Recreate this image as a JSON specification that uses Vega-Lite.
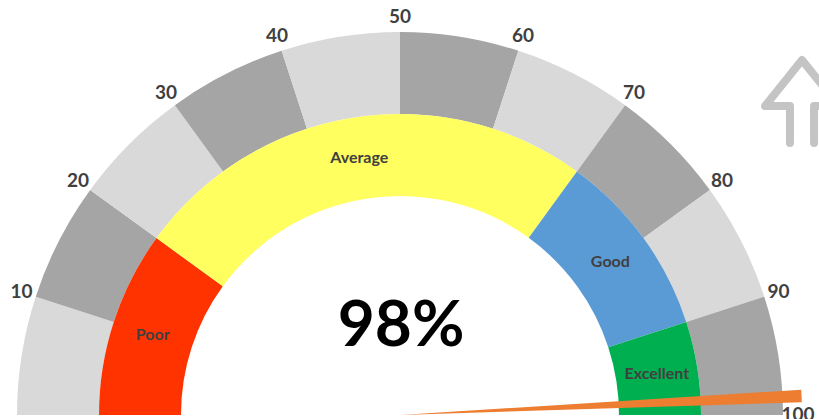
{
  "$schema": "https://vega.github.io/schema/vega-lite/v6.json",
  "width": 819,
  "height": 419,
  "padding": 0,
  "autosize": {"type": "none"},
  "background": "white",
  "config": {"view": {"stroke": null}},
  "encoding": {
    "x": {"datum": 0, "type": "quantitative", "scale": {"domain": [-100, 104.75], "nice": false, "zero": false}, "axis": null},
    "y": {"datum": 0, "type": "quantitative", "scale": {"domain": [-1, 103.75], "nice": false, "zero": false}, "axis": null}
  },
  "layer": [
    {
      "data": {"values": [
        {"start": 0, "end": 10, "band": "light"},
        {"start": 10, "end": 20, "band": "dark"},
        {"start": 20, "end": 30, "band": "light"},
        {"start": 30, "end": 40, "band": "dark"},
        {"start": 40, "end": 50, "band": "light"},
        {"start": 50, "end": 60, "band": "dark"},
        {"start": 60, "end": 70, "band": "light"},
        {"start": 70, "end": 80, "band": "dark"},
        {"start": 80, "end": 90, "band": "light"},
        {"start": 90, "end": 100, "band": "dark"}
      ]},
      "mark": {"type": "arc", "stroke": null},
      "encoding": {
        "theta": {"field": "start", "type": "quantitative", "stack": null, "scale": {"domain": [0, 100], "range": [-1.5708, 1.5708]}},
        "theta2": {"field": "end"},
        "radius": {"datum": 95.75, "type": "quantitative", "scale": {"type": "linear", "domain": [0, 100], "range": [0, 400], "zero": true}},
        "radius2": {"datum": 75.25},
        "color": {"field": "band", "type": "nominal", "legend": null, "scale": {"domain": ["light", "dark", "Poor", "Average", "Good", "Excellent"], "range": ["#d9d9d9", "#a5a5a5", "#ff3300", "#ffff5f", "#5b9bd5", "#00b050"]}}
      }
    },
    {
      "data": {"values": [
        {"start": 0, "end": 20, "band": "Poor"},
        {"start": 20, "end": 70, "band": "Average"},
        {"start": 70, "end": 90, "band": "Good"},
        {"start": 90, "end": 100, "band": "Excellent"}
      ]},
      "mark": {"type": "arc", "stroke": null},
      "encoding": {
        "theta": {"field": "start", "type": "quantitative", "stack": null},
        "theta2": {"field": "end"},
        "radius": {"datum": 75.25, "type": "quantitative"},
        "radius2": {"datum": 54.75},
        "color": {"field": "band", "type": "nominal", "legend": null}
      }
    },
    {
      "data": {"values": [
        {"mid": 10, "band": "Poor"},
        {"mid": 45, "band": "Average"},
        {"mid": 80, "band": "Good"},
        {"mid": 95, "band": "Excellent"}
      ]},
      "mark": {"type": "text", "font": "Lato", "fontWeight": "bold", "fontSize": 16, "fill": "#404040", "align": "center", "baseline": "middle"},
      "encoding": {
        "theta": {"field": "mid", "type": "quantitative", "stack": null},
        "radius": {"datum": 65, "type": "quantitative"},
        "text": {"field": "band"}
      }
    },
    {
      "data": {"values": [
        {"tick": 10}, {"tick": 20}, {"tick": 30}, {"tick": 40}, {"tick": 50},
        {"tick": 60}, {"tick": 70}, {"tick": 80}, {"tick": 90}, {"tick": 100}
      ]},
      "mark": {"type": "text", "font": "Lato", "fontWeight": "bold", "fontSize": 19, "fill": "#404040", "align": "center", "baseline": "middle"},
      "encoding": {
        "theta": {"field": "tick", "type": "quantitative", "stack": null},
        "radius": {"datum": 99.5, "type": "quantitative"},
        "text": {"field": "tick", "type": "quantitative"}
      }
    },
    {
      "data": {"values": [{"value": 98, "display": "98%"}]},
      "layer": [
        {
          "mark": {"type": "arc", "fill": "#ed7d31", "stroke": null},
          "encoding": {
            "theta": {"field": "value", "type": "quantitative", "stack": null},
            "theta2": {"datum": 99},
            "radius": {"datum": 100.5, "type": "quantitative"},
            "radius2": {"datum": 0}
          }
        },
        {
          "mark": {"type": "text", "font": "Lato", "fontWeight": "bold", "fontSize": 64, "fill": "#000000", "align": "center", "baseline": "middle"},
          "encoding": {
            "x": {"datum": 0.25, "type": "quantitative"},
            "y": {"datum": 22, "type": "quantitative"},
            "text": {"field": "display"}
          }
        }
      ]
    },
    {
      "data": {"values": [{"icon": "up"}]},
      "mark": {"type": "point", "shape": "M-0.29,1L-0.29,0.11L-0.89,0.11L0,-1L0.89,0.11L0.29,0.11L0.29,1", "filled": false, "fill": null, "stroke": "#c4c4c4", "strokeWidth": 8, "strokeCap": "round", "strokeJoin": "round", "opacity": 1, "size": 6889},
      "encoding": {
        "x": {"datum": 100.5, "type": "quantitative"},
        "y": {"datum": 78.375, "type": "quantitative"}
      }
    }
  ]
}
